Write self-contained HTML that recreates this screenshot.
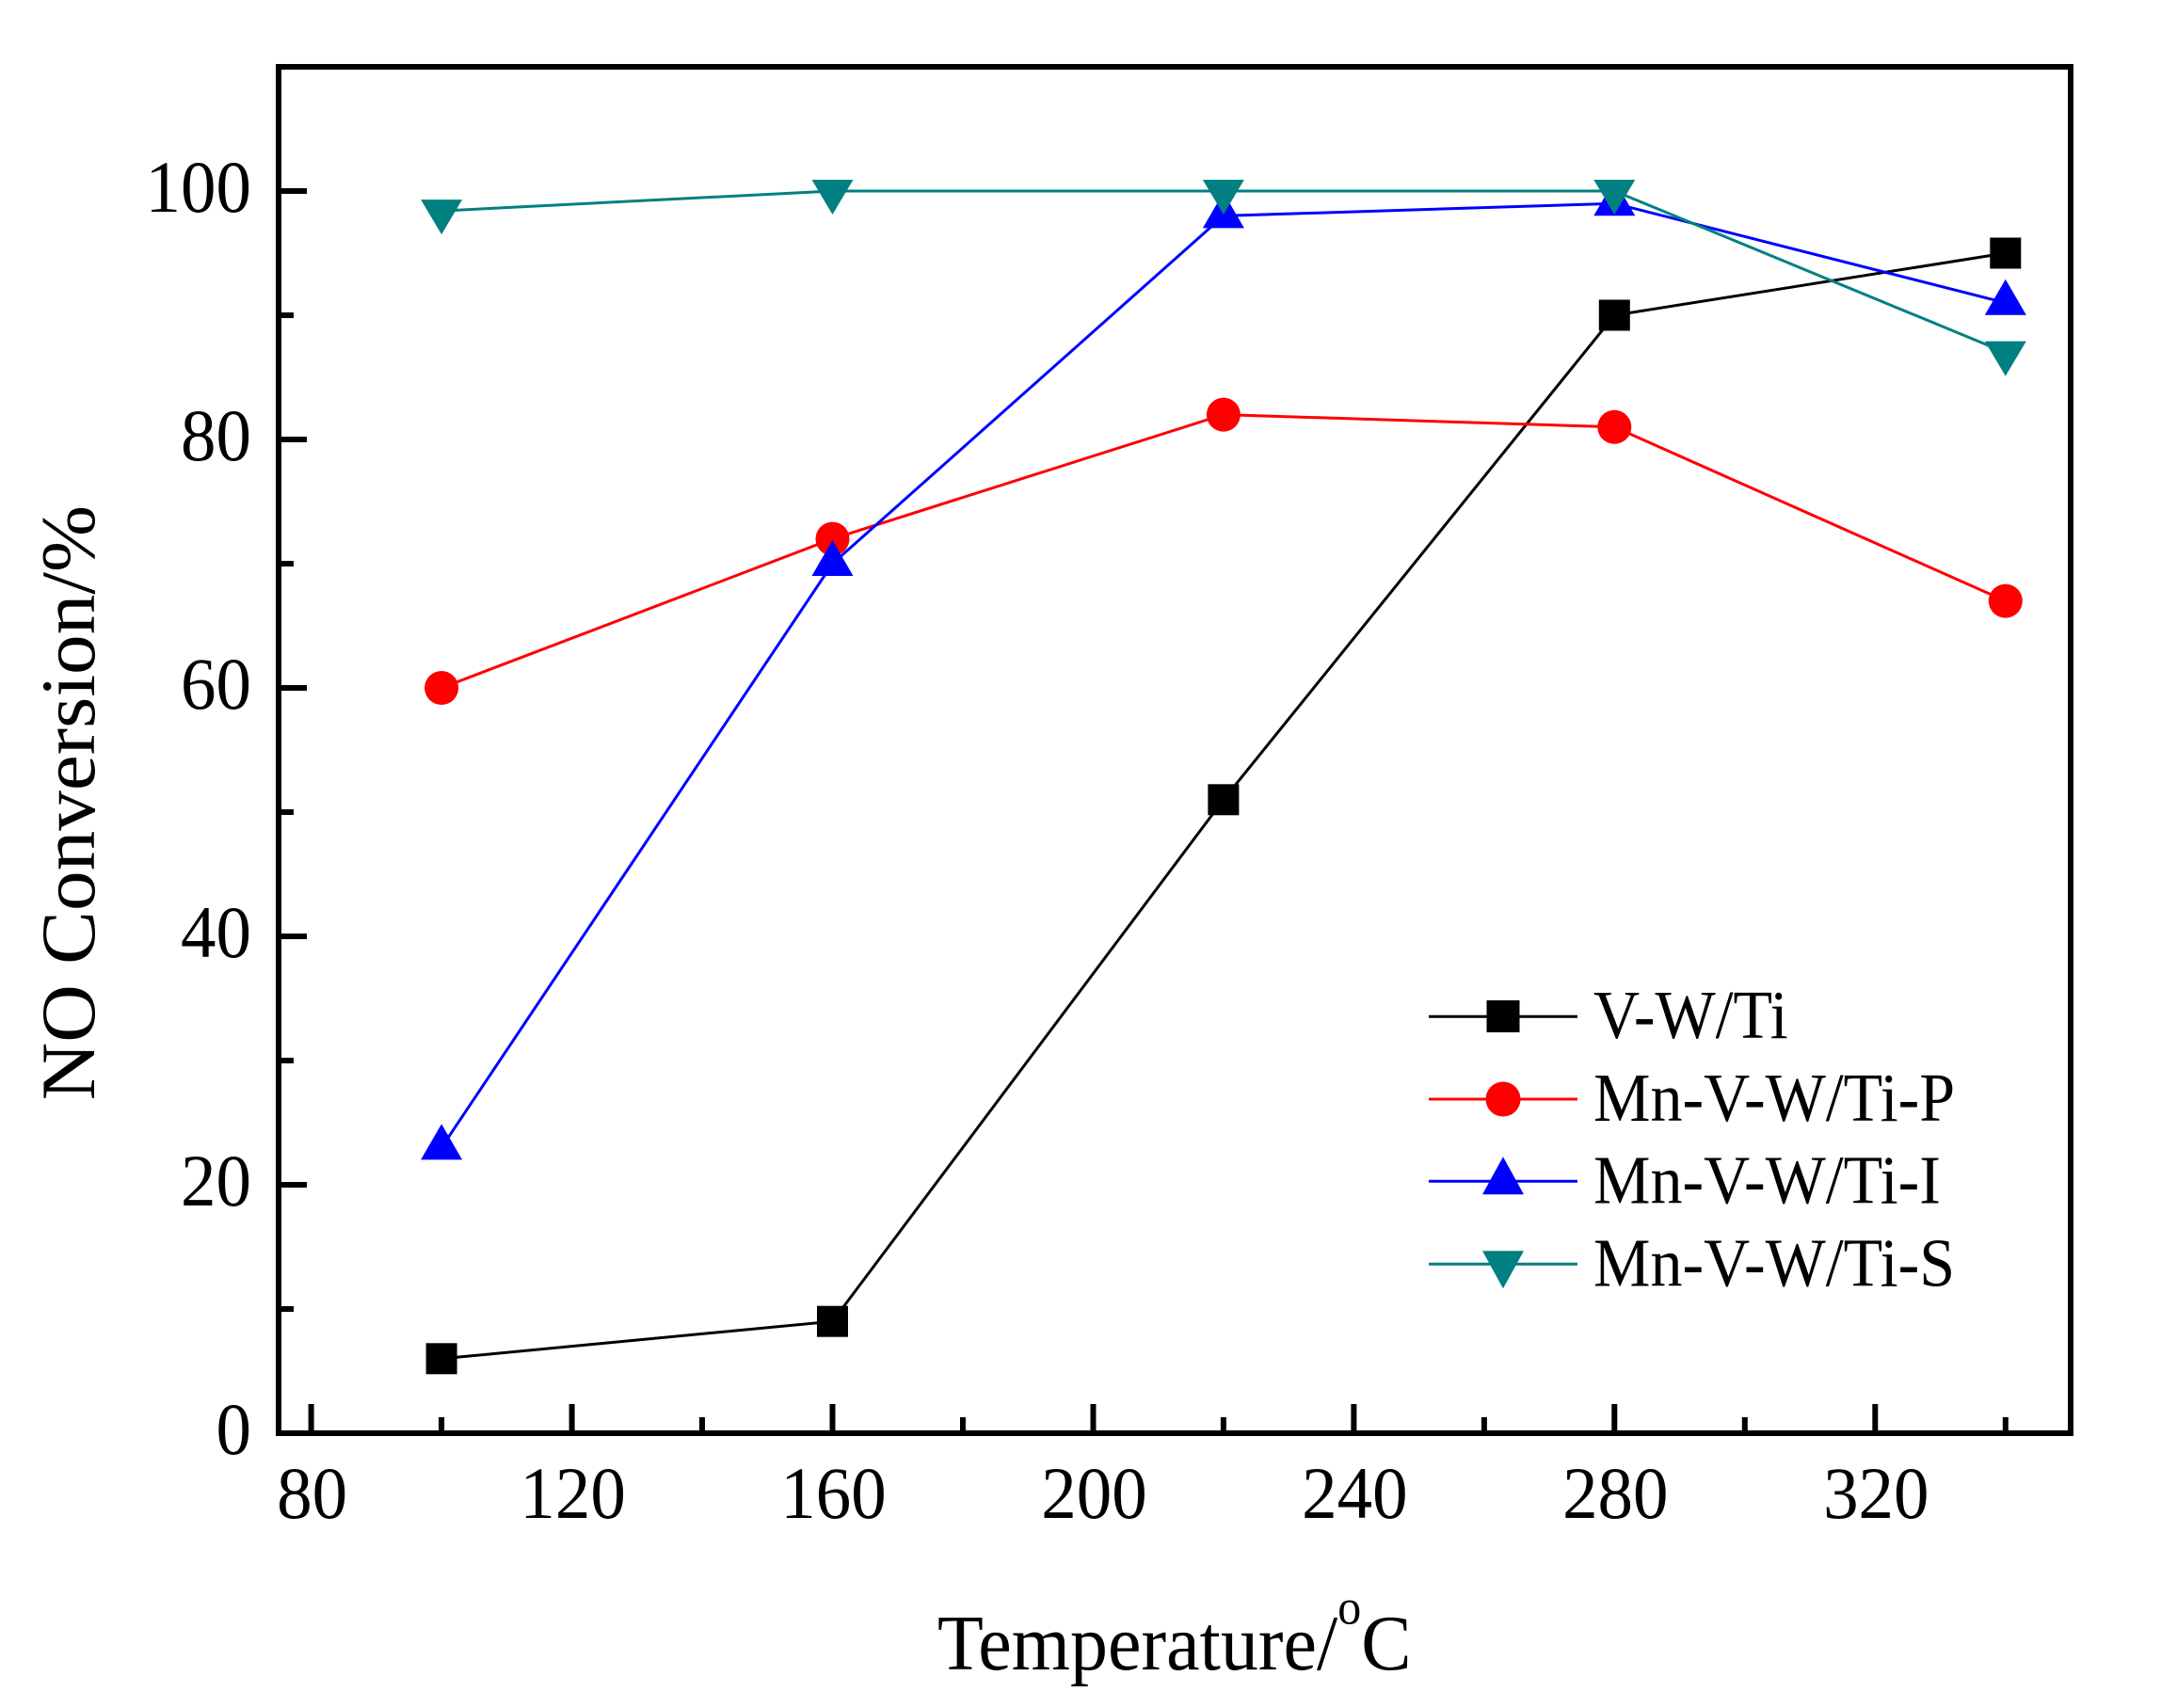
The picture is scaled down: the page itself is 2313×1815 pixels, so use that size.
<!DOCTYPE html>
<html>
<head>
<meta charset="utf-8">
<style>
  html, body { margin: 0; padding: 0; background: #ffffff; }
  svg { display: block; }
  text { font-family: "Liberation Serif", "Times New Roman", serif; fill: #000; }
</style>
</head>
<body>
<svg xmlns="http://www.w3.org/2000/svg" width="2313" height="1815" viewBox="0 0 2313 1815">
  <rect x="0" y="0" width="2313" height="1815" fill="#ffffff"/>

  <!-- ticks: x major -->
  <g stroke="#000" stroke-width="6" fill="none">
    <line x1="330.6" y1="1523" x2="330.6" y2="1492"/>
    <line x1="607.6" y1="1523" x2="607.6" y2="1492"/>
    <line x1="884.5" y1="1523" x2="884.5" y2="1492"/>
    <line x1="1161.5" y1="1523" x2="1161.5" y2="1492"/>
    <line x1="1438.4" y1="1523" x2="1438.4" y2="1492"/>
    <line x1="1715.3" y1="1523" x2="1715.3" y2="1492"/>
    <line x1="1992.3" y1="1523" x2="1992.3" y2="1492"/>
    <!-- x minor -->
    <line x1="469.1" y1="1523" x2="469.1" y2="1506"/>
    <line x1="746.0" y1="1523" x2="746.0" y2="1506"/>
    <line x1="1023.0" y1="1523" x2="1023.0" y2="1506"/>
    <line x1="1299.9" y1="1523" x2="1299.9" y2="1506"/>
    <line x1="1576.9" y1="1523" x2="1576.9" y2="1506"/>
    <line x1="1853.8" y1="1523" x2="1853.8" y2="1506"/>
    <line x1="2130.8" y1="1523" x2="2130.8" y2="1506"/>
    <!-- y major -->
    <line x1="296" y1="1259" x2="326" y2="1259"/>
    <line x1="296" y1="995" x2="326" y2="995"/>
    <line x1="296" y1="731" x2="326" y2="731"/>
    <line x1="296" y1="467" x2="326" y2="467"/>
    <line x1="296" y1="203" x2="326" y2="203"/>
    <!-- y minor -->
    <line x1="296" y1="1391" x2="312" y2="1391"/>
    <line x1="296" y1="1127" x2="312" y2="1127"/>
    <line x1="296" y1="863" x2="312" y2="863"/>
    <line x1="296" y1="599" x2="312" y2="599"/>
    <line x1="296" y1="335" x2="312" y2="335"/>
  </g>

  <!-- frame -->
  <rect x="296" y="71" width="1904" height="1452" fill="none" stroke="#000" stroke-width="6" stroke-linejoin="miter"/>

  <!-- Series: V-W/Ti (black squares) -->
  <polyline points="469.1,1443.8 884.5,1404.2 1299.9,849.8 1715.3,335 2130.8,269" fill="none" stroke="#000" stroke-width="3"/>
  <g fill="#000">
    <rect x="452.6" y="1427.3" width="33" height="33"/>
    <rect x="868" y="1387.7" width="33" height="33"/>
    <rect x="1283.4" y="833.3" width="33" height="33"/>
    <rect x="1698.8" y="318.5" width="33" height="33"/>
    <rect x="2114.3" y="252.5" width="33" height="33"/>
  </g>

  <!-- Series: Mn-V-W/Ti-P (red circles) -->
  <polyline points="469.1,731 884.5,572.6 1299.9,440.6 1715.3,453.8 2130.8,638.6" fill="none" stroke="#ff0000" stroke-width="3"/>
  <g fill="#ff0000">
    <circle cx="469.1" cy="731" r="18"/>
    <circle cx="884.5" cy="572.6" r="18"/>
    <circle cx="1299.9" cy="440.6" r="18"/>
    <circle cx="1715.3" cy="453.8" r="18"/>
    <circle cx="2130.8" cy="638.6" r="18"/>
  </g>

  <!-- Series: Mn-V-W/Ti-I (blue up triangles) -->
  <polyline points="469.1,1219.4 884.5,599 1299.9,229.4 1715.3,216.2 2130.8,321.8" fill="none" stroke="#0000ff" stroke-width="3"/>
  <g fill="#0000ff">
    <polygon points="447.1,1232.4 491.1,1232.4 469.1,1194.4"/>
    <polygon points="862.5,612 906.5,612 884.5,574"/>
    <polygon points="1277.9,242.4 1321.9,242.4 1299.9,204.4"/>
    <polygon points="1693.3,229.2 1737.3,229.2 1715.3,191.2"/>
    <polygon points="2108.8,334.8 2152.8,334.8 2130.8,296.8"/>
  </g>

  <!-- Series: Mn-V-W/Ti-S (teal down triangles) -->
  <polyline points="469.1,224.1 884.5,203 1299.9,203 1715.3,203 2130.8,374.6" fill="none" stroke="#008080" stroke-width="3"/>
  <g fill="#008080">
    <polygon points="447.1,212.1 491.1,212.1 469.1,249.1"/>
    <polygon points="862.5,191 906.5,191 884.5,228"/>
    <polygon points="1277.9,191 1321.9,191 1299.9,228"/>
    <polygon points="1693.3,191 1737.3,191 1715.3,228"/>
    <polygon points="2108.8,362.6 2152.8,362.6 2130.8,399.6"/>
  </g>

  <!-- X tick labels -->
  <g font-size="75" text-anchor="middle">
    <text transform="translate(331.6,1613) scale(1,1.05)">80</text>
    <text transform="translate(608.6,1613) scale(1,1.05)">120</text>
    <text transform="translate(885.5,1613) scale(1,1.05)">160</text>
    <text transform="translate(1162.5,1613) scale(1,1.05)">200</text>
    <text transform="translate(1439.4,1613) scale(1,1.05)">240</text>
    <text transform="translate(1716.3,1613) scale(1,1.05)">280</text>
    <text transform="translate(1993.3,1613) scale(1,1.05)">320</text>
  </g>

  <!-- Y tick labels -->
  <g font-size="75" text-anchor="end">
    <text transform="translate(267,1545) scale(1,1.05)">0</text>
    <text transform="translate(267,1281) scale(1,1.05)">20</text>
    <text transform="translate(267,1017) scale(1,1.05)">40</text>
    <text transform="translate(267,753) scale(1,1.05)">60</text>
    <text transform="translate(267,489) scale(1,1.05)">80</text>
    <text transform="translate(267,225) scale(1,1.05)">100</text>
  </g>

  <!-- Axis titles -->
  <text font-size="80" transform="translate(996,1774) scale(1,1.05)">Temperature/<tspan font-size="50" dy="-46">o</tspan><tspan font-size="80" dy="46">C</tspan></text>
  <text font-size="82" text-anchor="end" transform="translate(100,537) scale(1,1.04) rotate(-90)">NO Conversion/%</text>

  <!-- Legend -->
  <g>
    <line x1="1518" y1="1080.3" x2="1676" y2="1080.3" stroke="#000" stroke-width="3"/>
    <rect x="1579.5" y="1063" width="35" height="34" fill="#000"/>
    <line x1="1518" y1="1168" x2="1676" y2="1168" stroke="#ff0000" stroke-width="3"/>
    <circle cx="1597" cy="1168" r="18.5" fill="#ff0000"/>
    <line x1="1518" y1="1255.3" x2="1676" y2="1255.3" stroke="#0000ff" stroke-width="3"/>
    <polygon points="1575,1269.3 1619,1269.3 1597,1229.3" fill="#0000ff"/>
    <line x1="1518" y1="1343.3" x2="1676" y2="1343.3" stroke="#008080" stroke-width="3"/>
    <polygon points="1575,1329.3 1619,1329.3 1597,1369.3" fill="#008080"/>
  </g>
  <g font-size="68">
    <text transform="translate(1693,1103) scale(1,1.07)">V-W/Ti</text>
    <text transform="translate(1693,1191) scale(1,1.07)">Mn-V-W/Ti-P</text>
    <text transform="translate(1693,1278.5) scale(1,1.07)">Mn-V-W/Ti-I</text>
    <text transform="translate(1693,1366.5) scale(1,1.07)">Mn-V-W/Ti-S</text>
  </g>
</svg>
</body>
</html>
